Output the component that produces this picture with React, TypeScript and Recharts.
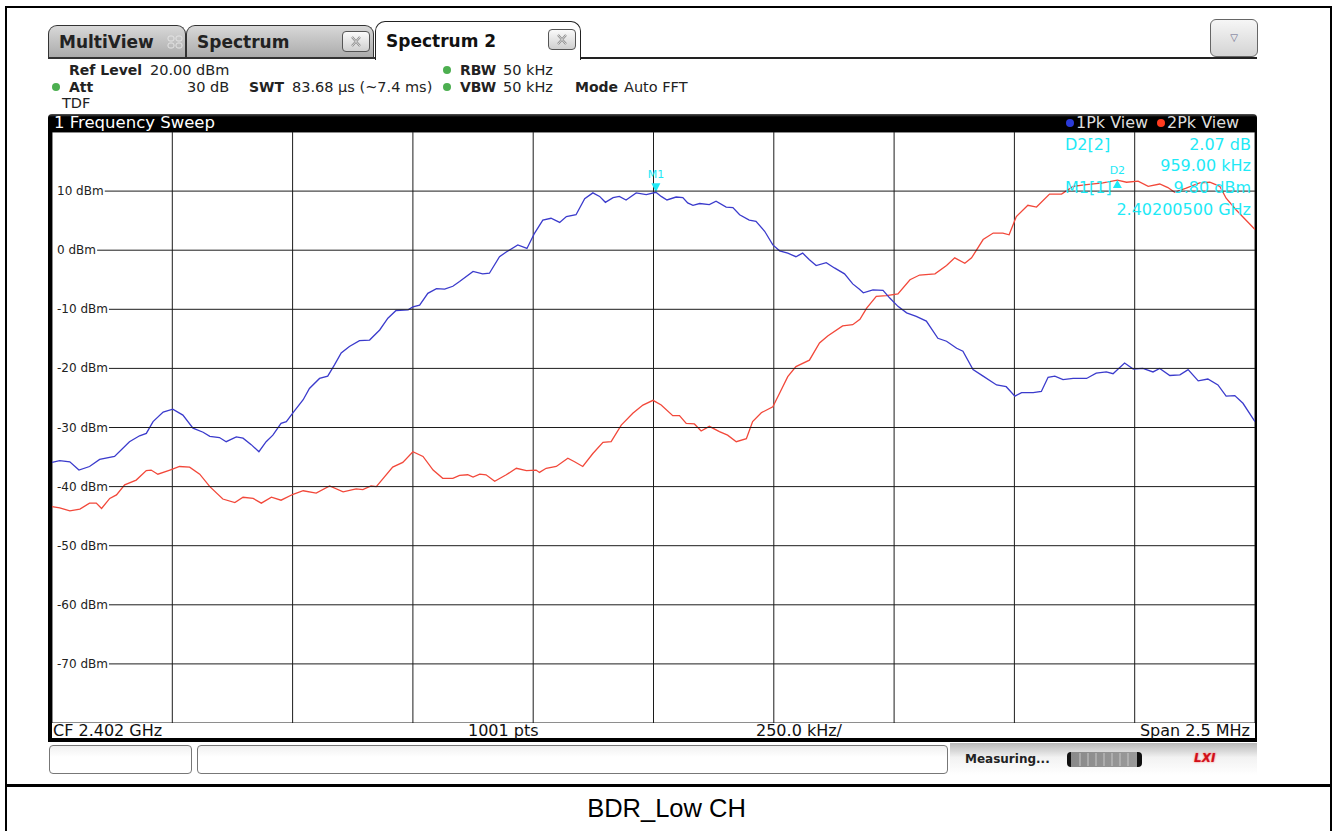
import React from 'react';
import { LineChart, Line, XAxis, YAxis, CartesianGrid, ReferenceDot } from 'recharts';

// frequency offset from start (kHz, 0..2500 = CF 2.402 GHz, span 2.5 MHz) and level in dBm
const trace1Khz = [0, 16, 37, 56, 78, 99, 130, 161, 182, 196, 210, 231, 251, 272, 293, 314, 328, 348, 362, 383, 397, 414, 430, 445, 459, 476, 487, 501, 522, 535, 556, 573, 587, 601, 618, 639, 660, 681, 698, 715, 740, 750, 764, 781, 799, 816, 833, 847, 875, 895, 909, 930, 944, 968, 987, 1003, 1020, 1037, 1055, 1069, 1089, 1107, 1124, 1138, 1150, 1166, 1179, 1193, 1214, 1235, 1255, 1266, 1278, 1297, 1311, 1321, 1332, 1346, 1366, 1380, 1401, 1415, 1429, 1449, 1463, 1481, 1498, 1512, 1529, 1546, 1560, 1574, 1588, 1609, 1626, 1647, 1664, 1678, 1686, 1706, 1727, 1741, 1758, 1776, 1796, 1817, 1841, 1859, 1880, 1893, 1914, 1935, 1963, 1983, 2001, 2015, 2039, 2056, 2070, 2084, 2101, 2122, 2150, 2170, 2191, 2205, 2229, 2247, 2267, 2288, 2302, 2323, 2344, 2361, 2382, 2402, 2423, 2440, 2458, 2475, 2500];
const trace1Dbm = [-35.9, -35.6, -35.8, -37.2, -36.6, -35.4, -34.9, -32.4, -31.4, -31.0, -29.0, -27.4, -26.9, -27.9, -30.1, -30.8, -31.5, -31.7, -32.4, -31.6, -31.8, -32.9, -34.1, -32.4, -31.3, -29.3, -29.0, -27.5, -25.3, -23.4, -21.7, -21.3, -19.4, -17.4, -16.3, -15.3, -15.2, -13.5, -11.5, -10.2, -10.1, -9.6, -9.3, -7.3, -6.5, -6.6, -6.1, -5.3, -3.6, -4.0, -3.9, -1.1, -0.3, 0.9, 0.3, 2.9, 5.1, 5.4, 4.7, 5.7, 6.0, 8.7, 9.7, 9.1, 8.1, 8.9, 9.1, 8.5, 9.7, 9.4, 9.8, 9.1, 8.5, 9.0, 8.9, 8.0, 7.6, 7.9, 7.7, 8.3, 7.3, 7.2, 6.0, 5.1, 4.9, 3.2, 0.9, -0.1, -0.5, -1.1, -0.5, -1.6, -2.6, -2.1, -3.0, -4.0, -5.7, -6.6, -7.2, -6.7, -6.8, -8.1, -9.5, -10.6, -11.2, -12.0, -14.9, -15.4, -16.6, -17.1, -20.2, -21.3, -22.8, -23.1, -24.7, -24.1, -24.1, -23.9, -21.5, -21.3, -21.9, -21.7, -21.7, -20.8, -20.6, -20.9, -19.1, -20.1, -20.0, -20.6, -20.0, -21.2, -21.1, -20.2, -22.1, -21.8, -22.8, -24.7, -24.6, -25.9, -29.0];

const trace2Khz = [0, 16, 37, 58, 78, 92, 103, 120, 134, 151, 175, 196, 206, 220, 245, 265, 286, 307, 328, 355, 380, 397, 418, 435, 456, 476, 501, 522, 549, 577, 605, 632, 646, 663, 674, 708, 729, 750, 771, 792, 812, 833, 847, 864, 875, 889, 902, 920, 944, 965, 986, 1006, 1013, 1027, 1048, 1072, 1086, 1103, 1124, 1145, 1162, 1183, 1207, 1228, 1249, 1266, 1290, 1304, 1318, 1335, 1349, 1366, 1387, 1404, 1422, 1443, 1456, 1474, 1498, 1512, 1529, 1546, 1574, 1595, 1612, 1643, 1664, 1679, 1693, 1713, 1734, 1758, 1783, 1803, 1835, 1859, 1876, 1897, 1911, 1935, 1956, 1976, 1989, 2004, 2028, 2046, 2073, 2098, 2122, 2150, 2184, 2214, 2233, 2257, 2278, 2302, 2319, 2333, 2357, 2385, 2406, 2427, 2440, 2461, 2500];
const trace2Dbm = [-43.4, -43.6, -44.1, -43.8, -42.8, -42.8, -43.7, -42.0, -41.4, -39.7, -38.9, -37.3, -37.2, -37.9, -37.2, -36.6, -36.7, -37.9, -40.0, -42.1, -42.7, -41.8, -42.0, -42.8, -41.8, -42.3, -41.3, -40.7, -41.1, -39.9, -40.9, -40.4, -40.5, -39.9, -40.0, -36.7, -35.9, -34.1, -34.9, -37.2, -38.6, -38.6, -38.1, -38.0, -38.4, -37.9, -38.0, -39.1, -38.0, -36.9, -37.3, -37.2, -37.6, -36.9, -36.6, -35.2, -35.8, -36.6, -34.4, -32.5, -32.4, -29.6, -27.6, -26.2, -25.4, -26.2, -28.0, -28.0, -29.3, -29.4, -30.6, -29.8, -30.7, -31.3, -32.4, -31.9, -29.0, -27.5, -26.5, -24.2, -21.4, -19.7, -18.6, -15.7, -14.5, -12.8, -12.6, -11.7, -9.8, -7.8, -7.7, -7.4, -5.0, -4.2, -4.0, -2.6, -1.3, -2.2, -1.3, 1.8, 2.9, 2.9, 2.6, 5.7, 7.6, 7.3, 9.5, 9.5, 10.8, 11.1, 11.4, 11.87, 11.5, 11.7, 10.8, 11.2, 10.6, 9.8, 10.5, 11.4, 11.5, 10.8, 8.8, 6.8, 3.5];

const freqTicks = [0, 250, 500, 750, 1000, 1250, 1500, 1750, 2000, 2250, 2500];
const levelTicks = [-80, -70, -60, -50, -40, -30, -20, -10, 0, 10, 20];

const m1Khz = 1255;
const m1Dbm = 9.8;
const d2Khz = 2214;
const d2Dbm = 11.87;

const FONT = '"DejaVu Sans", Verdana, sans-serif';
const CYAN = '#1ee9f6';
const BLUE = '#3b3bcc';
const RED = '#f2483a';
const GRID = '#1c1c1c';
const PLOT_W = 1203;
const PLOT_H = 591;

const trace1 = trace1Khz.map((f, i) => ({ f, v: trace1Dbm[i] }));
const trace2 = trace2Khz.map((f, i) => ({ f, v: trace2Dbm[i] }));

// level label sits on the left, horizontal grid line starts right after it
function LevelTick(props: any) {
  const { x, y, payload } = props;
  const v = payload.value;
  if (v >= 20 || v <= -80) {
    return <line x1={x} y1={y} x2={x + PLOT_W} y2={y} stroke={GRID} strokeWidth={1} />;
  }
  const label = `${v} dBm`;
  const digits = String(Math.abs(v)).length;
  const w = 31.5 + digits * 7.63 + (v < 0 ? 4.2 : 0);
  return (
    <g>
      <text x={x + 5} y={y + 4} fontSize={12} fontFamily={FONT} fill="#222">{label}</text>
      <line x1={x + 5 + w + 1} y1={y} x2={x + PLOT_W} y2={y} stroke={GRID} strokeWidth={1} />
    </g>
  );
}

const M1Shape = (p: any) => (
  <g>
    <polygon points={`${p.cx - 4.5},${p.cy - 9} ${p.cx + 4.5},${p.cy - 9} ${p.cx},${p.cy}`} fill={CYAN} />
    <text x={p.cx} y={p.cy - 14} textAnchor="middle" fontSize={11} fontFamily={FONT} fill={CYAN}>M1</text>
  </g>
);

const D2Shape = (p: any) => (
  <g>
    <polygon points={`${p.cx},${p.cy} ${p.cx - 4.5},${p.cy + 8} ${p.cx + 4.5},${p.cy + 8}`} fill={CYAN} />
    <text x={p.cx} y={p.cy - 6} textAnchor="middle" fontSize={11} fontFamily={FONT} fill={CYAN}>D2</text>
  </g>
);

function CloseBtn({ left, top }: { left: number; top: number }) {
  return (
    <div style={{ position: 'absolute', left, top, width: 26, height: 19, border: '1px solid #555', borderRadius: 4, background: 'linear-gradient(#fafafa, #cfcfcf)' }}>
      <svg width={26} height={19} style={{ position: 'absolute', left: 0, top: 0 }}>
        <path d="M9 5 L17 14 M17 5 L9 14" stroke="#8a8a8a" strokeWidth={2.2} />
        <path d="M9 5 L17 14 M17 5 L9 14" stroke="#eee" strokeWidth={0.8} />
      </svg>
    </div>
  );
}

const abs = (s: React.CSSProperties): React.CSSProperties => ({ position: 'absolute', whiteSpace: 'nowrap', ...s });

function Dot({ left, top, color }: { left: number; top: number; color: string }) {
  return <div style={abs({ left, top, width: 8, height: 8, borderRadius: 4, background: color })} />;
}

export default function App() {
  const hdr: React.CSSProperties = { fontFamily: FONT, fontSize: 14.5, color: '#222', lineHeight: '16px' };
  const bold: React.CSSProperties = { ...hdr, fontWeight: 'bold', fontSize: 14 };
  const info: React.CSSProperties = { fontSize: 16, color: '#111', lineHeight: '18px' };
  const readout: React.CSSProperties = { fontSize: 16, color: CYAN, lineHeight: '18px' };
  const tab: React.CSSProperties = { fontWeight: 'bold', fontSize: 17, color: '#222' };
  return (
    <div style={{ position: 'absolute', left: 0, top: 0, width: 1333, height: 831, background: '#fff', overflow: 'hidden', fontFamily: FONT }}>
      {/* outer frame */}
      <div style={abs({ left: 5, top: 6, width: 1323, height: 840, border: '2px solid #000', borderBottom: 'none' })} />
      <div style={abs({ left: 5, top: 784, width: 1325, height: 3, background: '#000' })} />
      <div style={abs({ left: 0, top: 793, width: 1333, textAlign: 'center', fontFamily: '"Liberation Sans", Arial, sans-serif', fontSize: 25.5, lineHeight: '30px', color: '#000' })}>BDR_Low CH</div>

      {/* tabs */}
      <div style={abs({ left: 48, top: 25, width: 136, height: 33, border: '1px solid #333', borderBottom: 'none', borderRadius: '9px 9px 0 0', background: 'linear-gradient(#d8d8d8, #a8a8a8)' })}>
        <div style={abs({ ...tab, left: 10, top: 6 })}>MultiView</div>
        <svg width={16} height={14} style={{ position: 'absolute', left: 118, top: 9 }}>
          <rect x={1} y={1} width={6} height={5} rx={2} fill="none" stroke="#e4e4e4" />
          <rect x={9} y={1} width={6} height={5} rx={2} fill="none" stroke="#e4e4e4" />
          <rect x={1} y={8} width={6} height={5} rx={2} fill="none" stroke="#e4e4e4" />
          <rect x={9} y={8} width={6} height={5} rx={2} fill="none" stroke="#e4e4e4" />
        </svg>
      </div>
      <div style={abs({ left: 186, top: 25, width: 186, height: 33, border: '1px solid #333', borderBottom: 'none', borderRadius: '9px 9px 0 0', background: 'linear-gradient(#d8d8d8, #a8a8a8)' })}>
        <div style={abs({ ...tab, left: 10, top: 6 })}>Spectrum</div>
        <CloseBtn left={155} top={5} />
      </div>
      <div style={abs({ left: 375, top: 21, width: 204, height: 38, border: '1.5px solid #222', borderBottom: 'none', borderRadius: '10px 10px 0 0', background: '#fff' })}>
        <div style={abs({ ...tab, left: 10, top: 9, color: '#111' })}>Spectrum 2</div>
        <CloseBtn left={172} top={7} />
      </div>
      <div style={abs({ left: 48, top: 57, width: 327, height: 1.5, background: '#333' })} />
      <div style={abs({ left: 580, top: 57, width: 677, height: 1.5, background: '#222' })} />
      <div style={abs({ left: 1210, top: 19, width: 46, height: 36, border: '1px solid #666', borderRadius: 6, background: 'linear-gradient(#f6f6f6, #d4d4d4)', textAlign: 'center', lineHeight: '36px', fontSize: 10, color: '#668' })}>▽</div>

      {/* header info */}
      <div style={abs({ ...bold, left: 69, top: 62 })}>Ref Level</div>
      <div style={abs({ ...hdr, left: 150, top: 62 })}>20.00 dBm</div>
      <Dot left={443} top={66} color="#4caf50" />
      <div style={abs({ ...bold, left: 460, top: 62 })}>RBW</div>
      <div style={abs({ ...hdr, left: 503, top: 62 })}>50 kHz</div>

      <Dot left={52} top={83} color="#4caf50" />
      <div style={abs({ ...bold, left: 69, top: 79 })}>Att</div>
      <div style={abs({ ...hdr, left: 187, top: 79 })}>30 dB</div>
      <div style={abs({ ...bold, left: 249, top: 79 })}>SWT</div>
      <div style={abs({ ...hdr, left: 292, top: 79 })}>83.68 µs (~7.4 ms)</div>
      <Dot left={443} top={83} color="#4caf50" />
      <div style={abs({ ...bold, left: 460, top: 79 })}>VBW</div>
      <div style={abs({ ...hdr, left: 503, top: 79 })}>50 kHz</div>
      <div style={abs({ ...bold, left: 575, top: 79 })}>Mode</div>
      <div style={abs({ ...hdr, left: 624, top: 79 })}>Auto FFT</div>
      <div style={abs({ ...hdr, left: 62, top: 95 })}>TDF</div>

      {/* title bar */}
      <div style={abs({ left: 48, top: 114, width: 1209, height: 18, background: 'linear-gradient(#555 0px, #000 3px, #000)', borderRadius: '4px 4px 0 0' })}>
        <div style={abs({ left: 6, top: 0, fontSize: 16.5, color: '#fff', lineHeight: '18px' })}>1 Frequency Sweep</div>
        <Dot left={1018} top={5} color="#2a3ad8" />
        <div style={abs({ left: 1028, top: 0, fontSize: 16, color: '#ddd', lineHeight: '18px' })}>1Pk View</div>
        <Dot left={1109} top={5} color="#ff3b1f" />
        <div style={abs({ left: 1119, top: 0, fontSize: 16, color: '#ddd', lineHeight: '18px' })}>2Pk View</div>
      </div>

      {/* plot frame */}
      <div style={abs({ left: 48, top: 132, width: 4, height: 610, background: '#000' })} />
      <div style={abs({ left: 1255, top: 132, width: 2, height: 610, background: '#000' })} />
      <div style={abs({ left: 48, top: 738, width: 1209, height: 4, background: '#000' })} />

      <div style={abs({ left: 52, top: 132 })}>
        <LineChart width={PLOT_W} height={PLOT_H} margin={{ top: 0, right: 0, bottom: 0, left: 0 }}>
          <CartesianGrid stroke={GRID} strokeWidth={1} horizontal={false} />
          <XAxis dataKey="f" type="number" domain={[0, 2500]} ticks={freqTicks} hide allowDataOverflow />
          <YAxis type="number" domain={[-80, 20]} ticks={levelTicks} mirror axisLine={false} tickLine={false} tickSize={0} tickMargin={0} tick={<LevelTick />} interval={0} allowDataOverflow />
          <Line data={trace2} dataKey="v" stroke={RED} strokeWidth={1.3} dot={false} isAnimationActive={false} type="linear" />
          <Line data={trace1} dataKey="v" stroke={BLUE} strokeWidth={1.3} dot={false} isAnimationActive={false} type="linear" />
          <ReferenceDot x={m1Khz} y={m1Dbm} r={0} shape={M1Shape} />
          <ReferenceDot x={d2Khz} y={d2Dbm} r={0} shape={D2Shape} />
        </LineChart>
      </div>

      {/* marker readout */}
      <div style={abs({ ...readout, left: 1065, top: 136 })}>D2[2]</div>
      <div style={abs({ ...readout, left: 1050, width: 201, textAlign: 'right', top: 136 })}>2.07 dB</div>
      <div style={abs({ ...readout, left: 1050, width: 201, textAlign: 'right', top: 157 })}>959.00 kHz</div>
      <div style={abs({ ...readout, left: 1065, top: 179 })}>M1[1]</div>
      <div style={abs({ ...readout, left: 1050, width: 201, textAlign: 'right', top: 179 })}>9.80 dBm</div>
      <div style={abs({ ...readout, left: 1050, width: 201, textAlign: 'right', top: 201 })}>2.40200500 GHz</div>

      {/* bottom info row */}
      <div style={abs({ ...info, left: 53, top: 722 })}>CF 2.402 GHz</div>
      <div style={abs({ ...info, left: 468, top: 722 })}>1001 pts</div>
      <div style={abs({ ...info, left: 756, top: 722 })}>250.0 kHz/</div>
      <div style={abs({ ...info, left: 1050, width: 200, textAlign: 'right', top: 722 })}>Span 2.5 MHz</div>

      {/* status bar */}
      <div style={abs({ left: 49, top: 745, width: 141, height: 27, border: '1px solid #777', borderRadius: 4, background: 'linear-gradient(#f0f0f0, #fff 40%)' })} />
      <div style={abs({ left: 197, top: 745, width: 749, height: 27, border: '1px solid #777', borderRadius: 4, background: 'linear-gradient(#f0f0f0, #fff 40%)' })} />
      <div style={abs({ left: 950, top: 743, width: 307, height: 32, background: 'linear-gradient(#b8b8b8, #f2f2f2 45%, #fff)' })}>
        <div style={abs({ left: 15, top: 9, fontSize: 12, fontWeight: 'bold', color: '#222' })}>Measuring...</div>
        <div style={abs({ left: 117, top: 9, width: 75, height: 15, borderRadius: 4, background: 'linear-gradient(90deg, #111 0, #111 6%, #8a8a8a 6%, #9a9a9a 94%, #111 94%)' })}>
          <svg width={75} height={15} style={{ position: 'absolute', left: 0, top: 0 }}>
            {[13, 21, 29, 37, 45, 53, 61].map((x) => (
              <line key={x} x1={x} y1={1} x2={x} y2={14} stroke="#c8c8c8" strokeWidth={1} />
            ))}
          </svg>
        </div>
        <div style={abs({ left: 244, top: 8, fontSize: 12, fontWeight: 'bold', fontStyle: 'italic', color: '#d0101a', textShadow: '0 0 2px #f55' })}>LXI</div>
      </div>
    </div>
  );
}
